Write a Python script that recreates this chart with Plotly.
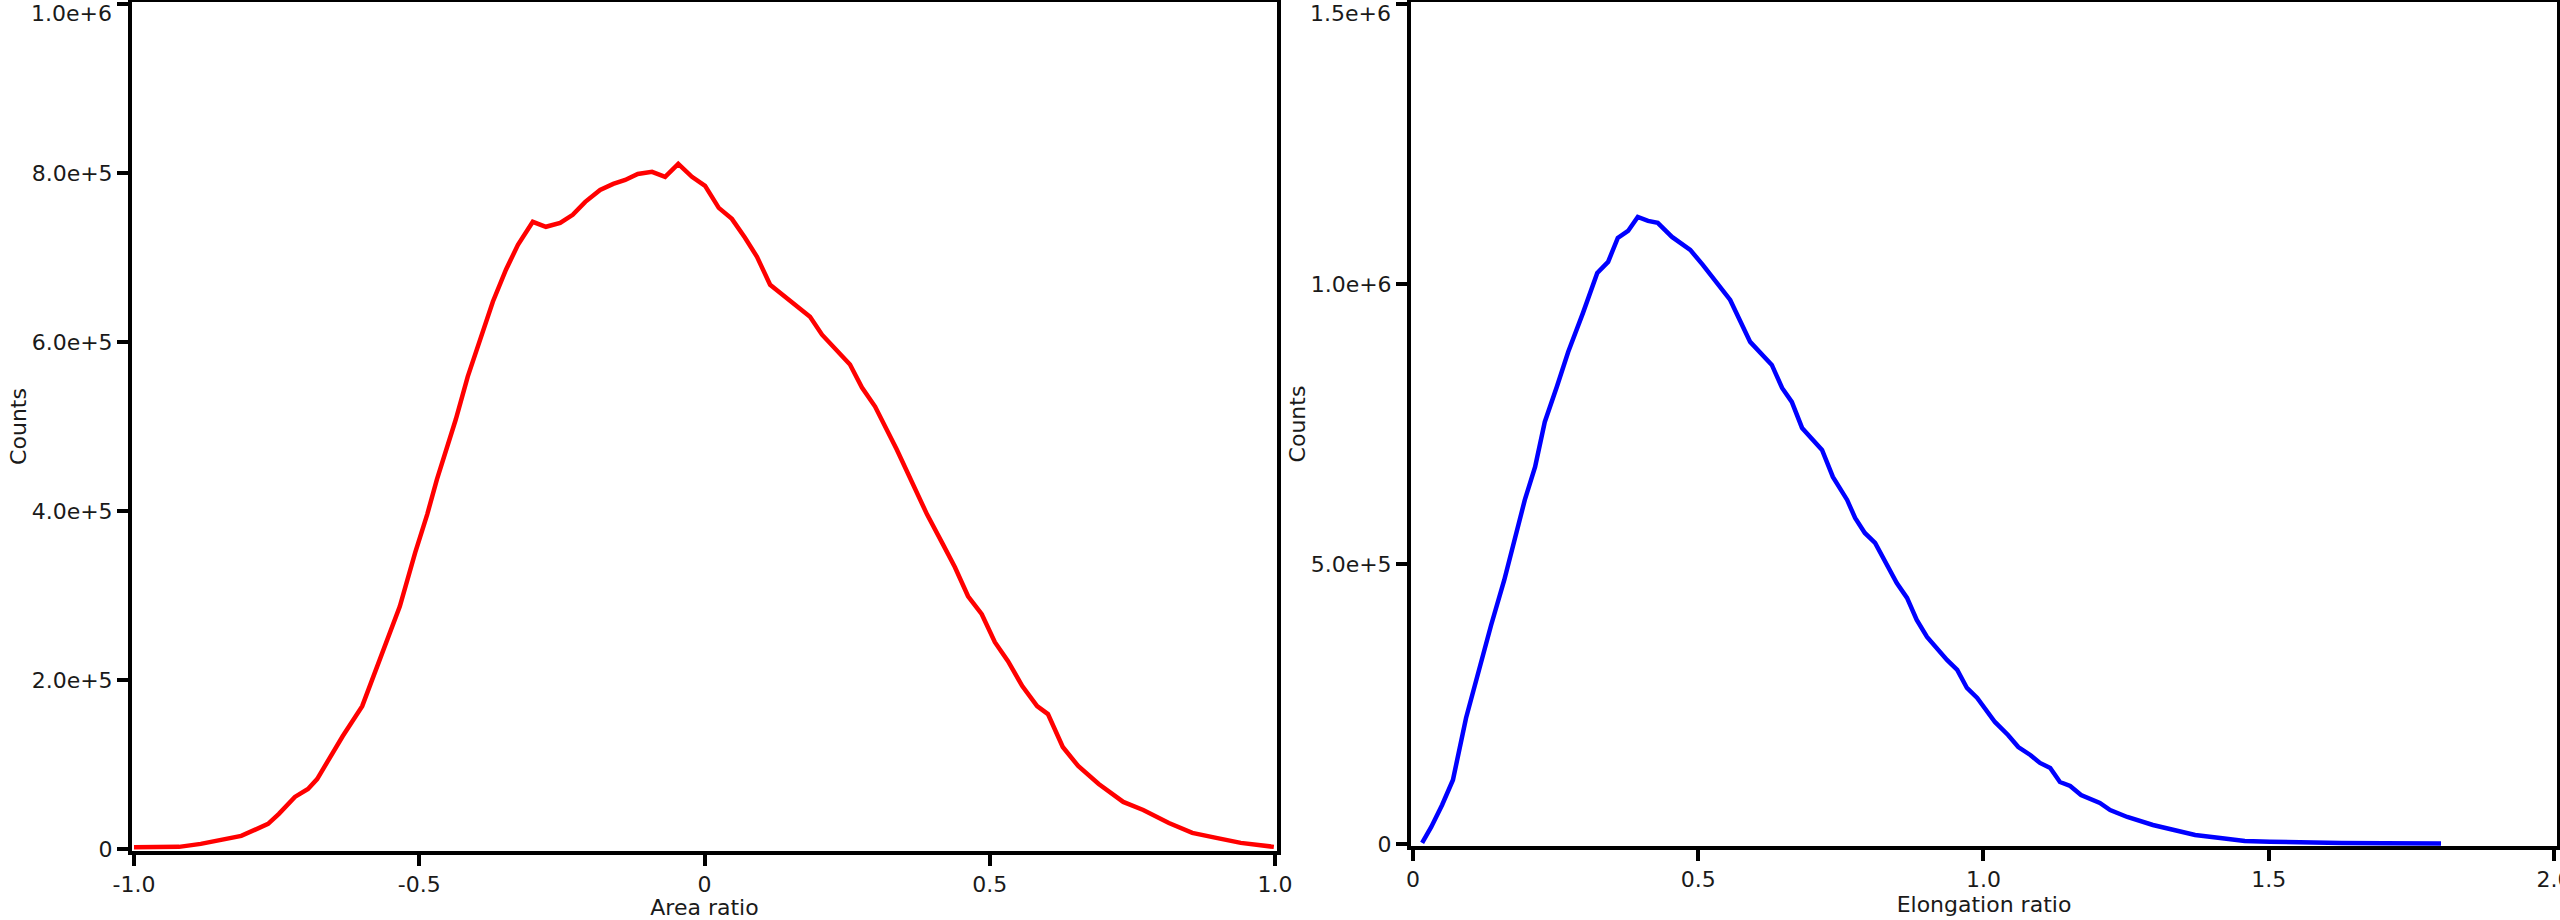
import plotly.graph_objects as go

# ---- Data: Area ratio histogram (red) ----
area_x = [-1.000, -0.921, -0.883, -0.812, -0.765, -0.746, -0.718, -0.695, -0.679, -0.634,
          -0.600, -0.560, -0.534, -0.507, -0.486, -0.469, -0.436, -0.415, -0.392, -0.371,
          -0.348, -0.327, -0.301, -0.278, -0.253, -0.231, -0.209, -0.183, -0.160, -0.139,
          -0.117, -0.092, -0.069, -0.046, -0.022, 0.001, 0.025, 0.048, 0.071, 0.092,
          0.115, 0.143, 0.162, 0.185, 0.206, 0.234, 0.255, 0.276, 0.299, 0.337,
          0.365, 0.390, 0.418, 0.439, 0.462, 0.486, 0.509, 0.532, 0.557, 0.583,
          0.602, 0.628, 0.655, 0.691, 0.734, 0.769, 0.814, 0.855, 0.897, 0.940, 0.998]
area_counts = [2000, 2400, 5900, 15400, 29600, 41400, 61500, 70900, 82700, 133600,
               169000, 238800, 287200, 351100, 396000, 437400, 508300, 559100, 606400, 647700,
               685600, 715100, 742300, 736400, 741100, 750600, 765900, 780100, 787200, 791900,
               799000, 801400, 795500, 810900, 795500, 784800, 758800, 745800, 723400, 700900,
               667800, 652500, 641800, 630000, 608700, 588600, 573300, 546100, 523600, 472800,
               433800, 396000, 360500, 333300, 299000, 277800, 244700, 222200, 192700, 169000,
               159600, 120600, 98100, 76800, 55600, 46100, 30700, 18900, 13000, 7100, 2400]

# ---- Data: Elongation ratio histogram (blue) ----
elong_x = [0.016, 0.032, 0.051, 0.070, 0.093, 0.116, 0.137, 0.160, 0.179, 0.196,
           0.214, 0.231, 0.252, 0.272, 0.298, 0.310, 0.323, 0.342, 0.359, 0.377,
           0.394, 0.412, 0.429, 0.454, 0.486, 0.508, 0.535, 0.556, 0.591, 0.629,
           0.647, 0.664, 0.682, 0.717, 0.736, 0.761, 0.775, 0.792, 0.810, 0.827,
           0.848, 0.866, 0.883, 0.901, 0.924, 0.936, 0.954, 0.971, 0.989, 1.006,
           1.020, 1.043, 1.061, 1.082, 1.099, 1.117, 1.134, 1.152, 1.171, 1.204,
           1.222, 1.252, 1.297, 1.334, 1.371, 1.415, 1.458, 1.502, 1.555, 1.628,
           1.702, 1.802]
elong_counts = [2000, 30400, 69700, 114300, 225000, 312600, 391100, 471500, 544700, 614400,
                673300, 753700, 816200, 878700, 948400, 984100, 1019800, 1039500, 1082300, 1094800,
                1119800, 1112700, 1109100, 1084100, 1060900, 1034100, 998400, 971600, 896600, 855500,
                814400, 789400, 743000, 703700, 655500, 614400, 582200, 555400, 537600, 507200,
                466100, 439400, 400100, 369700, 342900, 328600, 310800, 278600, 260800, 235800,
                217900, 194700, 173200, 159000, 144700, 135700, 110700, 103600, 87500, 73200,
                60700, 48200, 33900, 25000, 16100, 10700, 5400, 4100, 2300, 1800,
                1500, 1000]

# ---- Tick labels ----
left_y_vals = [0, 200000, 400000, 600000, 800000, 1000000]
left_y_text = ["0", "2.0e+5", "4.0e+5", "6.0e+5", "8.0e+5", "1.0e+6"]
left_x_vals = [-1.0, -0.5, 0.0, 0.5, 1.0]
left_x_text = ["-1.0", "-0.5", "0", "0.5", "1.0"]
right_y_vals = [0, 500000, 1000000, 1500000]
right_y_text = ["0", "5.0e+5", "1.0e+6", "1.5e+6"]
right_x_vals = [0.0, 0.5, 1.0, 1.5, 2.0]
right_x_text = ["0", "0.5", "1.0", "1.5", "2.0"]

W, H = 2560, 920
FONT = dict(family="DejaVu Sans", size=22, color="#1a1a1a")

fig = go.Figure()
fig.add_trace(go.Scatter(x=area_x, y=area_counts, mode="lines",
                         line=dict(color="#ff0000", width=4.5), xaxis="x", yaxis="y",
                         showlegend=False, hoverinfo="skip"))
fig.add_trace(go.Scatter(x=elong_x, y=elong_counts, mode="lines",
                         line=dict(color="#0000ff", width=4.5), xaxis="x2", yaxis="y2",
                         showlegend=False, hoverinfo="skip"))

axis_common = dict(showline=True, linecolor="black", linewidth=4, mirror=True,
                   ticks="outside", ticklen=11, tickwidth=4, tickcolor="black",
                   showgrid=False, zeroline=False, tickfont=FONT, automargin=False,
                   ticklabeloverflow="allow")

# The topmost y label sits just below its tick (kept inside the page), so it is
# drawn as an annotation at the tick's data position; the rest are normal tick labels.
left_y_ticktext = left_y_text[:-1] + [""]
right_y_ticktext = right_y_text[:-1] + [""]

fig.update_layout(
    width=W, height=H,
    margin=dict(l=0, r=0, t=0, b=0),
    paper_bgcolor="white", plot_bgcolor="white",
    font=FONT,
    xaxis=dict(domain=[132 / W, 1277 / W], anchor="y",
               range=[-1.0035, 1.0035], tickvals=left_x_vals, ticktext=left_x_text,
               title=dict(text="Area ratio", font=FONT, standoff=6), **axis_common),
    yaxis=dict(domain=[1 - 851 / H, 1 - 2 / H], anchor="x",
               range=[-2500, 1002500], tickvals=left_y_vals, ticktext=left_y_ticktext,
               title=dict(text="Counts", font=FONT, standoff=0), **axis_common),
    xaxis2=dict(domain=[1411 / W, 2557 / W], anchor="y2",
                range=[-0.0035, 2.0053], tickvals=right_x_vals, ticktext=right_x_text,
                title=dict(text="Elongation ratio", font=FONT, standoff=6), **axis_common),
    yaxis2=dict(domain=[1 - 846 / H, 1 - 2 / H], anchor="x2",
                range=[-3600, 1503600], tickvals=right_y_vals, ticktext=right_y_ticktext,
                title=dict(text="Counts", font=FONT, standoff=0), **axis_common),
)

fig.add_annotation(text=left_y_text[-1], xref="x domain", x=0, yref="y", y=left_y_vals[-1],
                   xanchor="right", yanchor="middle", xshift=-18, yshift=-9,
                   showarrow=False, font=FONT)
fig.add_annotation(text=right_y_text[-1], xref="x2 domain", x=0, yref="y2", y=right_y_vals[-1],
                   xanchor="right", yanchor="middle", xshift=-18, yshift=-9,
                   showarrow=False, font=FONT)

fig.write_html("out.html", config={"displayModeBar": False},
               post_script="document.body.style.margin='0';document.body.style.overflow='hidden';")
